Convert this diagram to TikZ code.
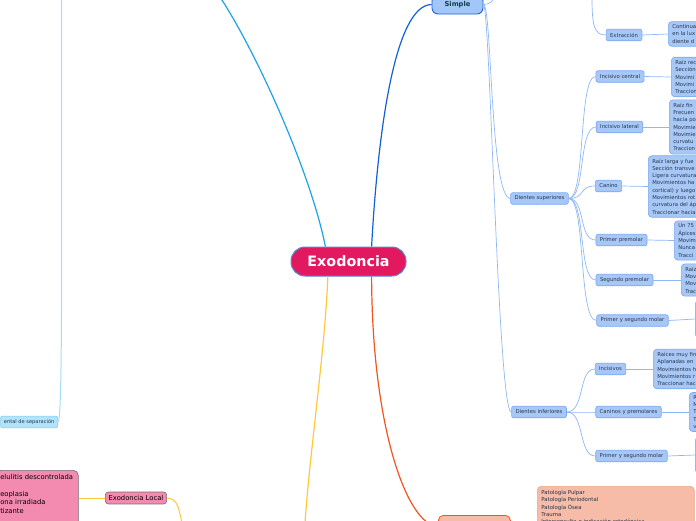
\documentclass[tikz,border=0pt]{standalone}
\usepackage{fontspec}
\setmainfont{DejaVu Sans}
\usepackage{xcolor}
\usepackage{tikz}
\definecolor{exopink}{HTML}{E2195F}
\definecolor{exoedge}{HTML}{5B87D6}
\definecolor{simplefill}{HTML}{A2C6F7}
\definecolor{simpleedge}{HTML}{1F63D8}
\definecolor{simpletext}{HTML}{133C46}
\definecolor{simpleline}{HTML}{1160D6}
\definecolor{subfill}{HTML}{A7C8F7}
\definecolor{subedge}{HTML}{79A7F0}
\definecolor{subline}{HTML}{8FB7F3}
\definecolor{subtext}{HTML}{27344A}
\definecolor{leftline}{HTML}{1EA2E6}
\definecolor{sepline}{HTML}{A6DBF5}
\definecolor{sepfill}{HTML}{B1E3FB}
\definecolor{sepedge}{HTML}{7DCDF3}
\definecolor{localline}{HTML}{FFC83A}
\definecolor{localfill}{HTML}{F38BB0}
\definecolor{localedge}{HTML}{6E6E6E}
\definecolor{causeline}{HTML}{F3541F}
\definecolor{causefill}{HTML}{F7BCA8}
\definecolor{causeedge}{HTML}{F0A184}

\begin{document}
\begin{tikzpicture}[
    x=1pt, y=-1pt,
    root/.style={
        draw=exoedge,
        fill=exopink,
        line width=1pt,
        rounded corners=14pt,
        text=white,
        font=\fontsize{14.3}{16}\selectfont\bfseries,
        minimum width=115pt,
        minimum height=29pt
    },
    topic/.style={
        draw=simpleedge,
        fill=simplefill,
        line width=0.9pt,
        rounded corners=6pt,
        text=simpletext,
        font=\fontsize{6.7}{8}\selectfont\bfseries,
        minimum width=51pt,
        minimum height=19pt
    },
    sub/.style={
        draw=subedge,
        fill=subfill,
        line width=0.6pt,
        rounded corners=2pt,
        text=subtext,
        font=\fontsize{5.3}{6.5}\selectfont,
        inner xsep=4pt,
        inner ysep=3pt,
        minimum height=11.5pt
    },
    note/.style={
        sub,
        align=left,
        text width=70pt,
        rounded corners=3.5pt,
        font=\fontsize{5.3}{7.3}\selectfont,
        inner xsep=4pt,
        inner ysep=3pt
    },
    link/.style={
        draw=subline,
        line width=0.7pt
    }
]

\useasboundingbox (0,0) rectangle (696,520);
\clip (0,0) rectangle (696,520);

% ============================================================
% Central topic and the main branches
% ============================================================

\node[root] (exo) at (348.5,261.5) {Exodoncia};

\node[topic] (simple) at (457.5,4.5) {Simple};

\coordinate (leftend) at (220,-3);
\coordinate (yellowend) at (305,523);

\draw[simpleline, line width=1.2pt] (exo.33)
    .. controls (378,130) and (395,5) .. (simple.west);
\draw[leftline, line width=1.2pt] (exo.147)
    .. controls (310,170) and (255,50) .. (leftend);
\draw[localline, line width=1.2pt] (exo.216)
    .. controls (325,350) and (310,450) .. (yellowend);

% ============================================================
% Left column: separation and local exodontia
% ============================================================

\node[draw=sepedge, fill=sepfill, rounded corners=2pt, line width=0.6pt,
      font=\fontsize{5.1}{6}\selectfont, text=subtext, minimum height=11pt,
      anchor=east] (sep) at (58,422) {ental de separación};

\coordinate (septop) at (61.5,-3);
\draw[sepline, line width=1pt] (septop)
    .. controls (62,300) and (62,422) .. (sep.east);

\node[draw=localedge, fill=localfill, rounded corners=3pt, line width=0.6pt,
      font=\fontsize{6.8}{8}\selectfont] (local) at (136,498) {Exodoncia Local};

\node[draw=localedge, fill=localfill, rounded corners=5pt, line width=0.6pt,
      font=\fontsize{6.8}{8.4}\selectfont, align=left, text width=74pt,
      inner sep=4pt, anchor=north west] (contra) at (-4,470)
    {elulitis descontrolada\\ ~\\ eoplasia\\ ona irradiada\\ tizante\\ ~};

\coordinate (localend) at (182,523);
\draw[localline, line width=1pt] (local.west) -- (local.west -| contra.east);
\draw[localline, line width=1pt] (local.east)
    .. controls (178,498) and (179,510) .. (localend);

% ============================================================
% Bottom right: indications
% ============================================================

\node[draw=causeline, fill=causefill, rounded corners=5pt, line width=0.8pt,
      minimum width=72pt, minimum height=22pt, anchor=north west]
    (cause) at (438,515) {};

\draw[causeline, line width=1.2pt] (exo.-33)
    .. controls (372,430) and (408,526) .. (cause.west);

\node[draw=causeedge, fill=causefill, rounded corners=4pt, line width=0.6pt,
      font=\fontsize{5.4}{7.2}\selectfont, text=subtext, align=left,
      text width=149pt, inner sep=4pt, anchor=north west] (indic) at (537,486)
    {Patología Pulpar\\
     Patología Periodontal\\
     Patología Ósea\\
     Trauma\\
     Interconsulta e indicación ortodóncica\\
     ~};

% ============================================================
% Simple: upper and lower teeth
% ============================================================

\node[sub] (dsup) at (539.5,198.5) {Dientes superiores};
\node[sub] (dinf) at (539,412) {Dientes inferiores};

\coordinate (simpleup) at (494,-3);
\draw[link] (simple.east) .. controls (490,4.5) and (493,1) .. (simpleup);
\draw[link] (simple.east) .. controls (492,4.5) and (490,198) .. (dsup.west);
\draw[link] (simple.east) .. controls (490,4.5) and (498,412) .. (dinf.west);

% ============================================================
% Extraction
% ============================================================

\node[sub] (extr) at (624,35) {Extracción};
\node[note, anchor=west] (extrnote) at (668,34)
    {Continua\\ en la lux\\ diente d};

\coordinate (extrtop) at (592,-3);
\draw[link] (extrtop) .. controls (592,25) and (594,35) .. (extr.west);
\draw[link] (extr.east) -- (extrnote.west);

% ============================================================
% Upper teeth
% ============================================================

\node[sub] (incc) at (620,76.5) {Incisivo central};
\node[note, anchor=west] (inccnote) at (671,77)
    {Raíz rec\\ Sección\\ Movimi\\ Movimi\\ Traccion};

\node[sub] (incl) at (619.5,127) {Incisivo lateral};
\node[note, anchor=west] (inclnote) at (669,127)
    {Raíz fin\\ Frecuen\\ hacia po\\ Movimie\\ Movimie\\ curvatu\\ Traccion};

\node[sub] (can) at (608.5,186) {Canino};
\node[note, anchor=west] (cannote) at (648,186.5)
    {Raíz larga y fue\\ Sección transve\\ Ligera curvatura\\
     Movimientos ha\\ cortical) y luego\\ Movimientos rot\\
     curvatura del áp\\ Traccionar hacia};

\node[sub] (ppre) at (621.5,240) {Primer premolar};
\node[note, anchor=west] (pprenote) at (674,240.5)
    {Un 75\\ Ápices\\ Movim\\ Nunca\\ Tracci};

\node[sub] (spre) at (624.5,280) {Segundo premolar};
\node[note, anchor=west] (sprenote) at (681,280)
    {Raíz\\ Mov\\ Mov\\ Trac};

\node[sub] (msup) at (632.5,320.5) {Primer y segundo molar};
\node[sub, anchor=west, minimum width=30pt, minimum height=37pt,
      rounded corners=3.5pt] (msupnote) at (695,319) {};

\foreach \tooth in {incc,incl,can,ppre,spre,msup}
    \draw[link] (dsup.east) .. controls (586,198.5) and (578,0 |- \tooth.west)
        .. (\tooth.west);

\draw[link] (incc.east) -- (inccnote.west);
\draw[link] (incl.east) -- (inclnote.west);
\draw[link] (can.east) -- (cannote.west);
\draw[link] (ppre.east) -- (pprenote.west);
\draw[link] (spre.east) -- (sprenote.west);
\draw[link] (msup.east) -- (msupnote.west -| msupnote.west);

% ============================================================
% Lower teeth
% ============================================================

\node[sub] (incs) at (610.5,369) {Incisivos};
\node[note, anchor=west] (incsnote) at (653,369)
    {Raíces muy fin\\ Aplanadas en\\ Movimientos h\\ Movimientos r\\ Traccionar hac};

\node[sub] (canpre) at (628.5,412) {Caninos y premolares};
\node[note, anchor=west] (canprenote) at (689,412)
    {R\\ M\\ T\\ T\\ v};

\node[sub] (minf) at (631.5,456) {Primer y segundo molar};
\node[sub, anchor=west, minimum width=30pt, minimum height=36pt,
      rounded corners=3.5pt] (minfnote) at (695,455) {};

\foreach \tooth in {incs,canpre,minf}
    \draw[link] (dinf.east) .. controls (585,412) and (578,0 |- \tooth.west)
        .. (\tooth.west);

\draw[link] (incs.east) -- (incsnote.west);
\draw[link] (canpre.east) -- (canprenote.west);
\draw[link] (minf.east) -- (minfnote.west);

\end{tikzpicture}
\end{document}
